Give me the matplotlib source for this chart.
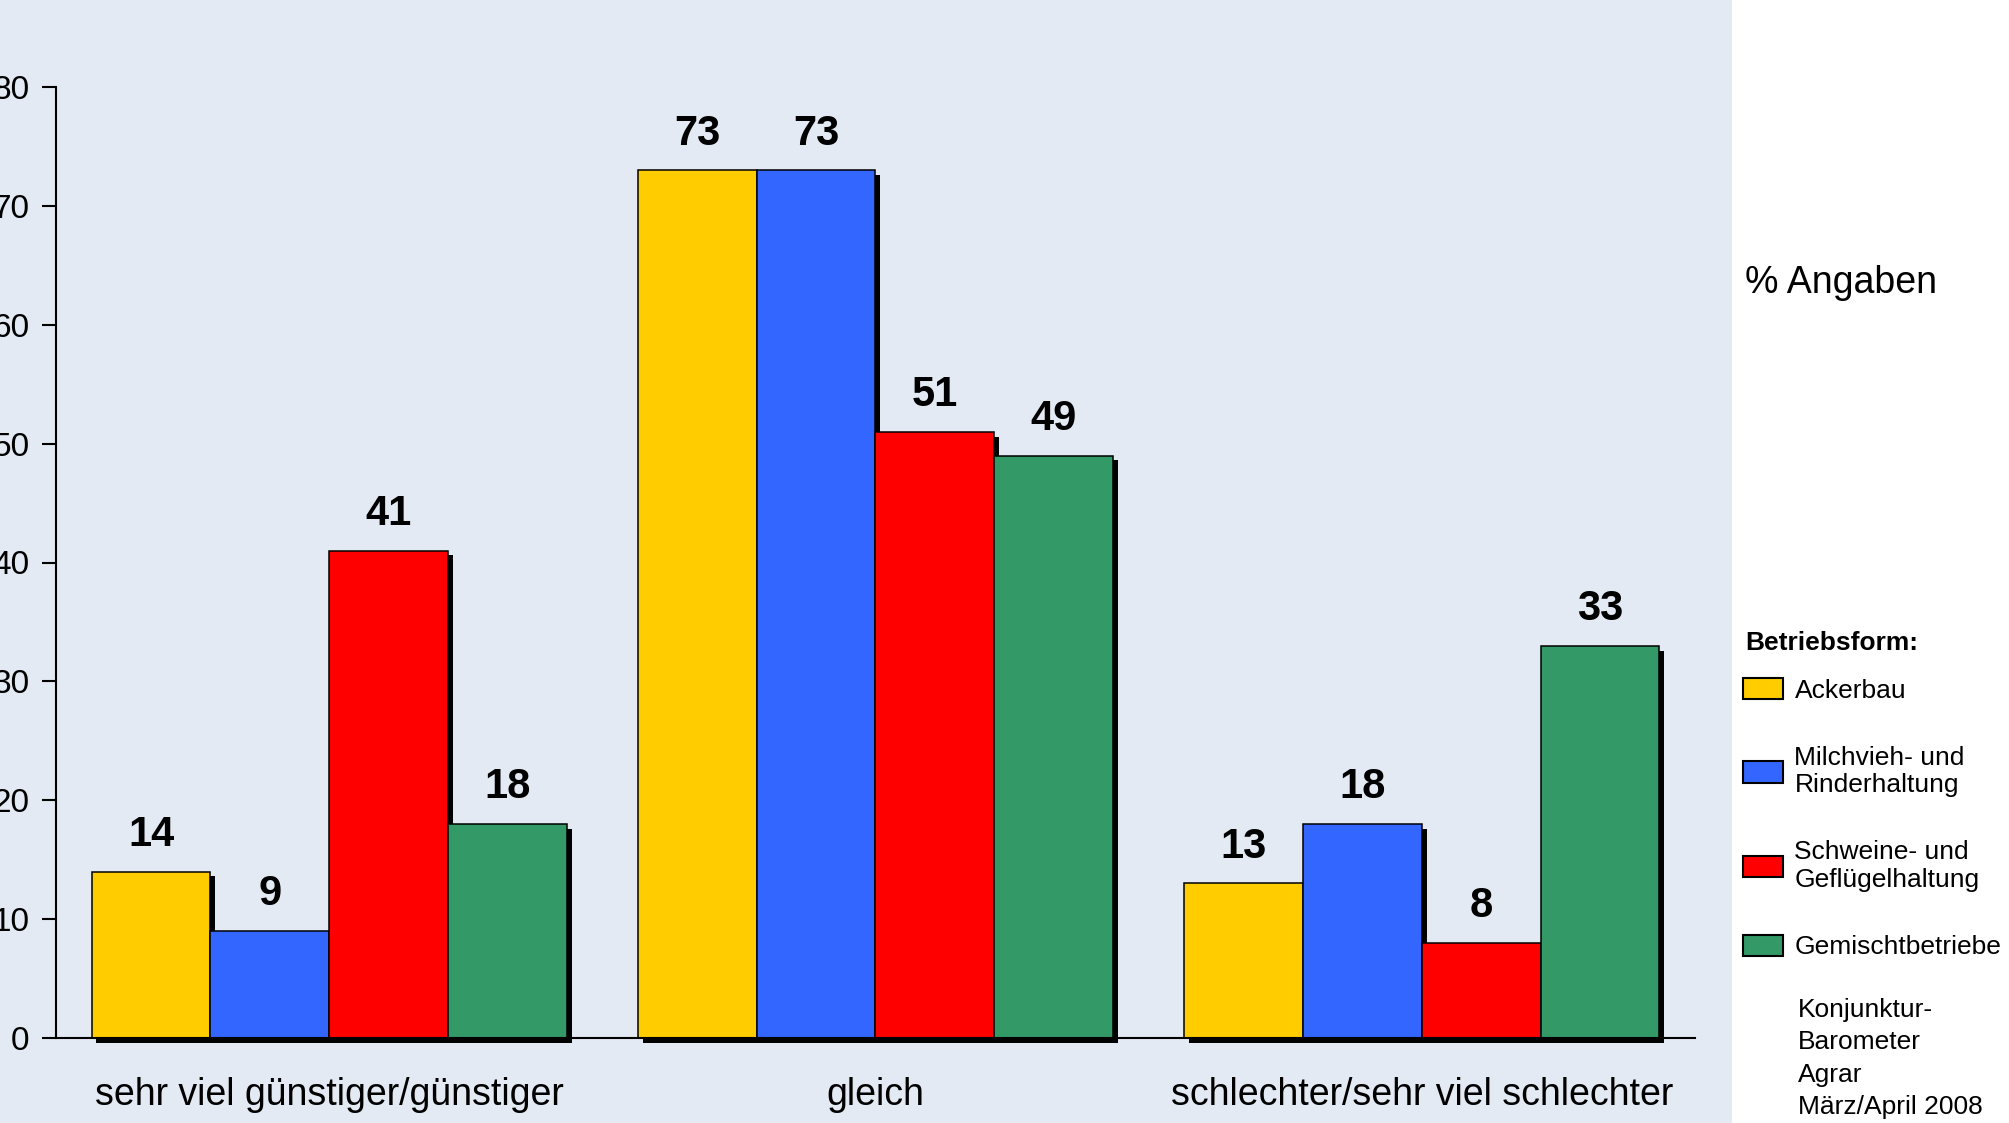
import matplotlib.pyplot as plt
import matplotlib.patheffects as pe
from matplotlib.patches import Rectangle, Patch
from numpy import arange

# ---------------------------------------------------------------
# DADOS

kategorien = ['sehr viel günstiger/günstiger', 'gleich',
              'schlechter/sehr viel schlechter']
serien = ['Ackerbau', 'Milchvieh- und\nRinderhaltung',
          'Schweine- und\nGeflügelhaltung', 'Gemischtbetriebe']
ackerbau = [14, 73, 13]
milchvieh = [9, 73, 18]
schweine = [41, 51, 8]
gemischt = [18, 49, 33]
werte = [ackerbau, milchvieh, schweine, gemischt]
farben = ['#FFCC00', '#3366FF', '#FF0000', '#339966']
y_ticks = list(range(0, 90, 10))

# ---------------------------------------------------------------
# FIGURA

plt.rcParams['font.family'] = ['Liberation Sans', 'DejaVu Sans']
W, H = 2009, 1123
fig = plt.figure(figsize=(W / 100, H / 100), dpi=100)

# Painel azul claro atrás do gráfico
fundo = '#E3EAF3'
fig.patches.append(Rectangle((0, 0), 1732 / W, 1, transform=fig.transFigure,
                             facecolor=fundo, edgecolor='none', zorder=-5))

ax = fig.add_axes([56 / W, 1 - 1038 / H, (1695 - 56) / W, (1038 - 87) / H])
ax.set_facecolor(fundo)

x = arange(len(kategorien))
largura = 0.2174
sombra = [pe.SimplePatchShadow(offset=(3.5, -3.5), shadow_rgbFace='black',
                               alpha=1.0), pe.Normal()]

for i, (serie, cor) in enumerate(zip(werte, farben)):
    pos = x + (i - 1.5) * largura
    barras = ax.bar(pos, serie, width=largura, color=cor, edgecolor='black',
                    linewidth=1.1, clip_on=False, zorder=2,
                    label=serien[i])
    for b in barras:
        b.set_path_effects(sombra)
    for p, v in zip(pos, serie):
        ax.annotate(f'{v}', (p, v), xytext=(0, 12), textcoords='offset points',
                    ha='center', va='bottom', fontsize=30, fontweight='bold')

# Eixos
ax.set_xlim(-0.5, 2.5)
ax.set_ylim(0, 80)
ax.set_yticks(y_ticks)
ax.set_xticks(x)
ax.set_xticklabels(kategorien, fontsize=27)
ax.tick_params(axis='x', length=0, pad=28)
ax.tick_params(axis='y', length=10, width=1.5, pad=9, labelsize=24)
for s in ['top', 'right']:
    ax.spines[s].set_visible(False)
for s in ['left', 'bottom']:
    ax.spines[s].set_linewidth(1.5)
    ax.spines[s].set_zorder(3)

# Adornos
fig.text(1745 / W, 1 - 283 / H, '% Angaben', fontsize=27, va='center')

fig.text(1745 / W, 1 - 643 / H, 'Betriebsform:', fontsize=19,
         fontweight='bold', va='center')
handles = [Patch(facecolor=c, edgecolor='black', linewidth=1.5) for c in farben]
leg = fig.legend(handles, serien, loc='upper left',
                 bbox_to_anchor=(1743 / W, 1 - 678 / H), frameon=False,
                 fontsize=19,
                 handlelength=1.5, handleheight=0.87, handletextpad=0.45,
                 labelspacing=1.62, borderpad=0, borderaxespad=0)

fig.text(1798 / W, 1 - 998 / H,
         'Konjunktur-\nBarometer\nAgrar\nMärz/April 2008',
         fontsize=19, va='top', linespacing=1.44)

plt.savefig('out.png', dpi=100)
